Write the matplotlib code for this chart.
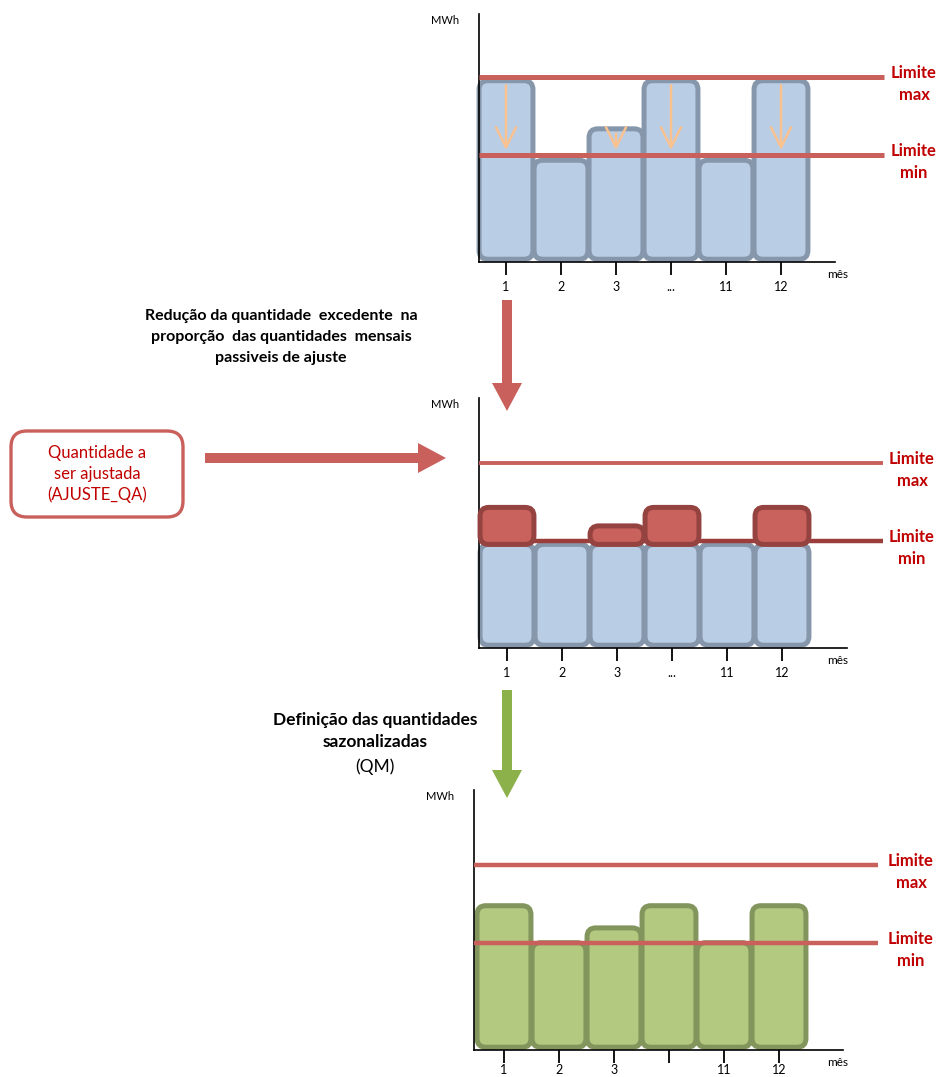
import matplotlib
matplotlib.use('Agg')
import matplotlib.pyplot as plt
from matplotlib.patches import FancyBboxPatch, FancyArrow, FancyArrowPatch

plt.rcParams['font.family'] = ['Lato', 'DejaVu Sans']

W, H = 937, 1077

# --- data ---
months = ['1', '2', '3', '...', '11', '12']
months_final = ['1', '2', '3', '', '11', '12']
limite_max = 100
limite_min = 58

sazonal_inicial = [98, 55, 72, 98, 55, 98]
base_ajustada = [56, 56, 56, 56, 56, 56]
excedente = [20, 0, 10, 20, 0, 20]
sazonal_final = [78, 58, 66, 78, 58, 78]

# colours
BLUE, BLUE_EDGE = '#b9cde5', '#8797ab'
GREEN, GREEN_EDGE = '#b2c97f', '#82955c'
RED_BAR, RED_EDGE = '#c9615c', '#954340'
LINE_RED = '#c9605c'
LABEL_RED = '#c00000'
ORANGE = '#fac28f'
BIG_GREEN = '#8cb04a'

PX_Y = 1.85   # pixels per MWh unit
PX_X = 55.0   # pixels per month slot
BAR_W = 0.98
BAR_LW = 3.6

fig = plt.figure(figsize=(W / 100, H / 100), dpi=100)


def make_axes(left, top, right, bottom, first_center, pad=5):
    ax = fig.add_axes([left / W, 1 - bottom / H, (right - left) / W, (bottom - top) / H])
    ax.set_xlim(1 - (first_center - left) / PX_X, 1 + (right - first_center) / PX_X)
    ax.set_ylim(0, (bottom - top) / PX_Y)
    for s in ('top', 'right'):
        ax.spines[s].set_visible(False)
    for s in ('left', 'bottom'):
        ax.spines[s].set_linewidth(1.2)
    ax.set_yticks([])
    ax.tick_params(axis='x', direction='out', length=9, width=1.3, labelsize=9, pad=pad)
    ax.set_facecolor('none')
    fig.text((left - 34) / W, 1 - (top + 6) / H, 'MWh', fontsize=8,
             ha='center', va='center')
    fig.text(838 / W, 1 - (bottom + 13) / H, 'mês', fontsize=8.5,
             ha='center', va='center')
    ax._px = (left, right)
    # aspect so that rounded corners are circular
    aspect = (1 / PX_Y) / (1 / PX_X)
    return ax, aspect


def rounded_bars(ax, aspect, xs, bottoms, heights, face, edge, z=2):
    for x, b, h in zip(xs, bottoms, heights):
        if h <= 0:
            continue
        p = FancyBboxPatch((x - BAR_W / 2, b), BAR_W, h,
                           boxstyle='round,pad=0,rounding_size=0.16',
                           mutation_aspect=aspect, fc=face, ec=edge,
                           lw=BAR_LW, zorder=z, clip_on=False)
        ax.add_patch(p)


def limit_lines(ax, line_end, label_x, max_color, min_color, lw_max=3.2, lw_min=3.2):
    left, right = ax._px
    end = (line_end - left) / (right - left)
    lab = (label_x - left) / (right - left)
    trans = ax.get_yaxis_transform()
    ax.plot([0, end], [limite_max, limite_max], color=max_color, lw=lw_max,
            transform=trans, clip_on=False, zorder=4, solid_capstyle='butt')
    ax.plot([0, end], [limite_min, limite_min], color=min_color, lw=lw_min,
            transform=trans, clip_on=False, zorder=4, solid_capstyle='butt')
    for val, word in ((limite_max, 'max'), (limite_min, 'min')):
        ax.text(lab, val - 4, 'Limite\n' + word, transform=trans, color=LABEL_RED,
                fontsize=12, fontweight='bold', ha='center', va='center',
                linespacing=1.45)


xs = list(range(1, len(months) + 1))

# --- chart 1 ---
ax1, asp1 = make_axes(479, 14, 835, 262, 506)
rounded_bars(ax1, asp1, xs, [1.5] * 6, [v - 1.5 for v in sazonal_inicial], BLUE, BLUE_EDGE)
limit_lines(ax1, 884, 914, LINE_RED, LINE_RED, lw_max=3.6, lw_min=3.6)
ax1.set_xticks(xs)
ax1.set_xticklabels(months)
for x, v in zip(xs, sazonal_inicial):
    if v > limite_min:
        arr = FancyArrowPatch((x, v - 1), (x, limite_min + 1),
                              arrowstyle='->,head_length=0.9,head_width=0.45',
                              mutation_scale=16, color=ORANGE, lw=1.8, zorder=5)
        ax1.add_patch(arr)

# --- chart 2 ---
ax2, asp2 = make_axes(479, 398, 847, 648, 507)
rounded_bars(ax2, asp2, xs, [1.5] * 6, [v - 1.5 for v in base_ajustada], BLUE, BLUE_EDGE)
limit_lines(ax2, 883, 912, LINE_RED, '#9b3e3b', lw_max=2.8, lw_min=3.2)
rounded_bars(ax2, asp2, xs, base_ajustada, excedente, RED_BAR, RED_EDGE, z=5)
ax2.set_xticks(xs)
ax2.set_xticklabels(months)

# --- chart 3 ---
ax3, asp3 = make_axes(474, 790, 843, 1050, 504, pad=1)
rounded_bars(ax3, asp3, xs, [1.5] * 6, [v - 1.5 for v in sazonal_final], GREEN, GREEN_EDGE)
limit_lines(ax3, 878, 911, LINE_RED, LINE_RED)
ax3.set_xticks(xs)
ax3.set_xticklabels(months_final)

# --- overlay: arrows, notes, box ---
ov = fig.add_axes([0, 0, 1, 1], zorder=-1)
ov.set_xlim(0, W)
ov.set_ylim(H, 0)
ov.axis('off')

ov.add_patch(FancyArrow(507, 300, 0, 111, width=10, head_width=30, head_length=28,
                        length_includes_head=True, color=LINE_RED, lw=0))
ov.add_patch(FancyArrow(205, 458, 241, 0, width=10, head_width=30, head_length=28,
                        length_includes_head=True, color=LINE_RED, lw=0))
ov.add_patch(FancyArrow(507, 690, 0, 108, width=10, head_width=30, head_length=28,
                        length_includes_head=True, color=BIG_GREEN, lw=0))

ov.text(281, 337, 'Redução da quantidade  excedente  na\nproporção  das quantidades  mensais\npassiveis de ajuste',
        ha='center', va='center', fontsize=11.5, fontweight='bold', linespacing=1.6)
ov.text(375, 731, 'Definição das quantidades\nsazonalizadas',
        ha='center', va='center', fontsize=12.5, fontweight='bold', linespacing=1.4)
ov.text(375, 767, '(QM)', ha='center', va='center', fontsize=12.5)

ov.add_patch(FancyBboxPatch((11, 431), 172, 86, boxstyle='round,pad=0,rounding_size=16',
                            fc='white', ec=LINE_RED, lw=2.4))
ov.text(97, 474, 'Quantidade a\nser ajustada\n(AJUSTE_QA)', ha='center', va='center',
        fontsize=12, color=LABEL_RED, linespacing=1.35)

fig.savefig('out.png', dpi=100)
